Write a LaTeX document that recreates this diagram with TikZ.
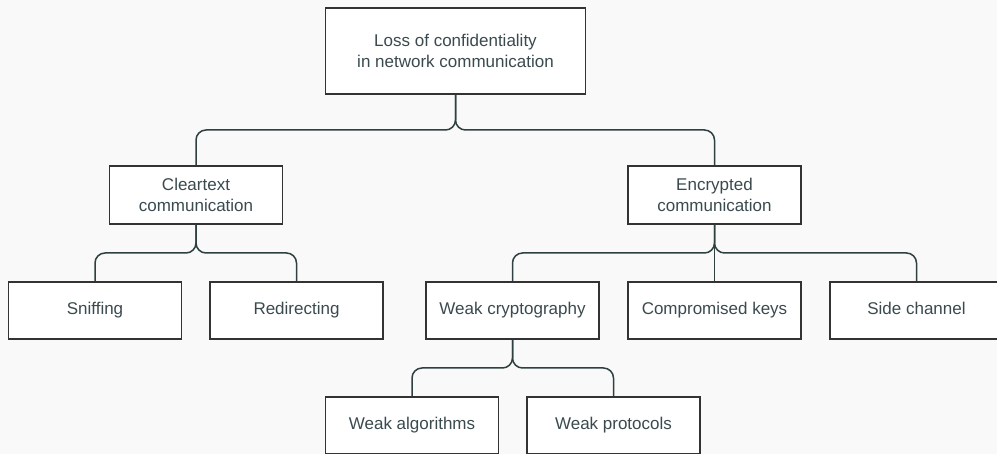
\documentclass[tikz,border=0pt]{standalone}
\usepackage{fontspec}
\setmainfont{Liberation Sans}
\definecolor{bgc}{HTML}{F9F9F9}
\definecolor{boxc}{HTML}{333333}
\definecolor{linec}{HTML}{2F4040}
\definecolor{txtc}{HTML}{3A4A4F}
\begin{document}
\begin{tikzpicture}[x=1pt,y=-1pt,
  treebox/.style={draw=boxc, fill=white, line width=1.5pt, rectangle,
    minimum width=173pt, minimum height=57pt, inner sep=0pt,
    align=center, text=txtc, font=\fontsize{17}{20.5}\selectfont},
  onebox/.style={treebox, text height=12.5pt, text depth=3.5pt},
  link/.style={draw=linec, line width=1.5pt, rounded corners=10pt}]
\useasboundingbox (0,0) rectangle (997,454);
\fill[bgc] (0,0) rectangle (997,454);
\clip (0,0) rectangle (997,454);
\node[treebox, minimum width=260pt, minimum height=86pt] (top) at (455.5,51) {Loss of confidentiality\\in network communication};
\node[treebox, minimum height=58pt] (clear) at (196,195) {Cleartext\\communication};
\node[treebox, minimum height=58pt] (enc) at (714.5,195) {Encrypted\\communication};
\node[onebox] (sniff) at (95,310.5) {Sniffing};
\node[onebox] (redir) at (296.5,310.5) {Redirecting};
\node[onebox] (weakc) at (512.5,310.5) {Weak cryptography};
\node[onebox] (comp) at (714.5,310.5) {Compromised keys};
\node[onebox] (side) at (916.5,310.5) {Side channel};
\node[onebox] (walg) at (412,425.5) {Weak algorithms};
\node[onebox] (wprot) at (613.5,425.5) {Weak protocols};
% connectors
\draw[link] (top.south) -- (top.south |- 0,130) -- (clear.north |- 0,130) -- (clear.north);
\draw[link] (top.south) -- (top.south |- 0,130) -- (enc.north |- 0,130) -- (enc.north);
\draw[link] (clear.south) -- (clear.south |- 0,253) -- (sniff.north |- 0,253) -- (sniff.north);
\draw[link] (clear.south) -- (clear.south |- 0,253) -- (redir.north |- 0,253) -- (redir.north);
\draw[link] (enc.south) -- (enc.south |- 0,253) -- (weakc.north |- 0,253) -- (weakc.north);
\draw[link] (enc.south) -- (comp.north);
\draw[link] (enc.south) -- (enc.south |- 0,253) -- (side.north |- 0,253) -- (side.north);
\draw[link] (weakc.south) -- (weakc.south |- 0,368) -- (walg.north |- 0,368) -- (walg.north);
\draw[link] (weakc.south) -- (weakc.south |- 0,368) -- (wprot.north |- 0,368) -- (wprot.north);
\end{tikzpicture}
\end{document}
